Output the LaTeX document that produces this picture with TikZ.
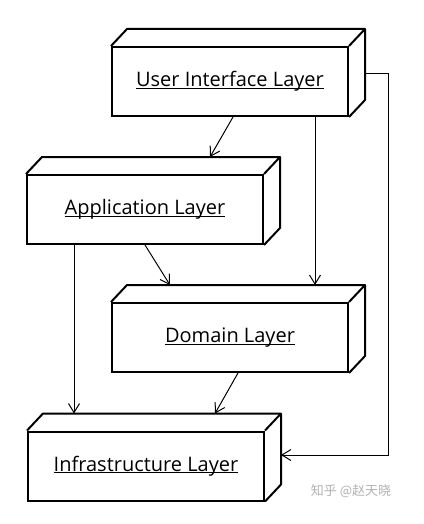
\documentclass[tikz,border=0pt]{standalone}
\usepackage{fontspec}
\setmainfont{Open Sans}
\newfontfamily\cjkfont{Noto Sans CJK SC}
\usetikzlibrary{arrows.meta,calc}
\newcommand{\boxfaces}[1]{%
  \draw[face] (#1.north west) -- ++(16,-17) -- ($(#1.north east)+(16,-17)$) -- ($(#1.south east)+(16,-17)$) -- (#1.south east);
  \draw[face] (#1.north east) -- ++(16,-17);}
\newcommand{\ultext}[1]{\underline{\smash{#1}}}
\begin{document}
\begin{tikzpicture}[x=1pt,y=-1pt,
  layer/.style={draw, line width=2pt, minimum width=236pt, minimum height=69pt, inner sep=0pt, text height=12pt, text depth=2pt, font=\fontsize{20}{24}\selectfont},
  face/.style={line width=2pt, line join=round},
  conn/.style={line width=1pt, -{Straight Barb[length=9pt,width=11pt]}}]
\useasboundingbox (0,0) rectangle (423,524);
\fill[white] (0,0) rectangle (423,524);

\node[layer] (ui) at (230,81.5) {\ultext{User Interface Layer}};
\boxfaces{ui}
\node[layer] (app) at (145,209.5) {\ultext{Application Layer}};
\boxfaces{app}
\node[layer] (dom) at (230,337.5) {\ultext{Domain Layer}};
\boxfaces{dom}
\node[layer] (infra) at (146,466) {\ultext{Infrastructure Layer}};
\boxfaces{infra}

\draw[conn] ($(ui.south)+(3,0)$) -- ($(app.north)+(65,-17)$);
\draw[conn] ($(ui.south)+(85,0)$) -- ($(dom.north)+(85,-17)$);
\draw[conn] ($(ui.east)+(16,-8)$) -- ++(23,0) |- ($(infra.east)+(16,-11)$);
\draw[conn] (app.south) -- ($(dom.north)+(-60,-17)$);
\draw[conn] ($(app.south)+(-71,0)$) -- ($(infra.north)+(-72,-17)$);
\draw[conn] ($(dom.south)+(8,0)$) -- ($(infra.north)+(69,-17)$);

\node[text=black!30, font=\cjkfont\fontsize{13}{15}\selectfont] (wm) at (351,491) {知乎 @赵天晓};
\end{tikzpicture}
\end{document}
